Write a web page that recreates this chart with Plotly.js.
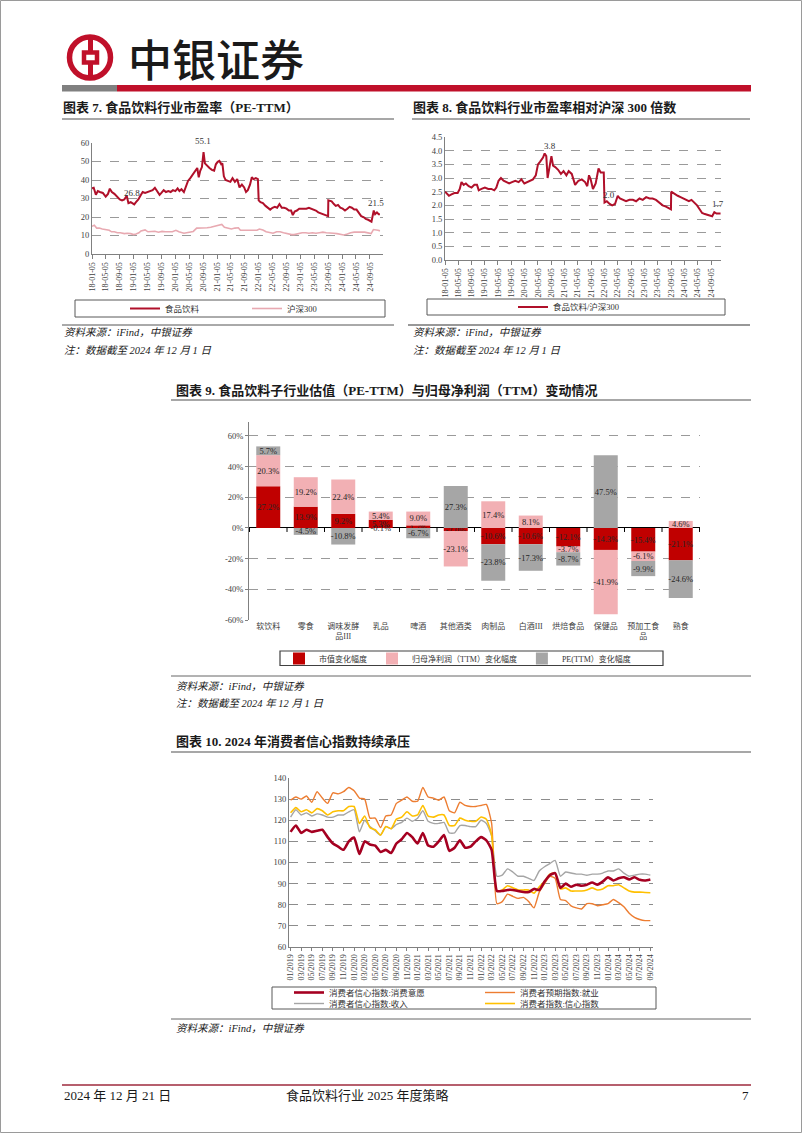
<!DOCTYPE html>
<html><head><meta charset="utf-8">
<script src="https://cdn.plot.ly/plotly-3.0.1.min.js"></script>
<style>html,body{margin:0;padding:0;background:#fff;}#page{width:802px;height:1133px;}</style>
</head><body><div id="page"></div>
<script>
// ================= DATA =================
// 图表7: 食品饮料 PE-TTM
const peDates = [
'2018-01-05','2018-01-20','2018-02-08','2018-02-25','2018-03-15','2018-04-10','2018-05-05','2018-05-25','2018-06-10','2018-06-28','2018-07-20','2018-08-15','2018-09-05','2018-09-25','2018-10-15','2018-11-05','2018-11-20','2018-12-10','2018-12-28',
'2019-01-10','2019-01-25','2019-02-15','2019-03-05','2019-03-25','2019-04-15','2019-05-05','2019-05-25','2019-06-20','2019-07-10','2019-07-30','2019-08-20','2019-09-05','2019-09-25','2019-10-15','2019-11-05','2019-11-25','2019-12-15',
'2020-01-05','2020-01-25','2020-02-10','2020-02-28','2020-03-20','2020-04-05','2020-04-25','2020-05-15','2020-06-05','2020-06-25','2020-07-15','2020-07-28','2020-08-10','2020-08-25','2020-09-08','2020-09-20','2020-10-10','2020-10-30','2020-11-20','2020-12-10','2020-12-25',
'2021-01-10','2021-01-25','2021-02-10','2021-02-20','2021-03-05','2021-03-20','2021-04-10','2021-05-01','2021-05-20','2021-06-10','2021-06-30','2021-07-20','2021-08-10','2021-08-30','2021-09-15','2021-10-01','2021-10-20','2021-11-05','2021-11-20','2021-12-10','2021-12-28',
'2022-01-04','2022-01-20','2022-02-10','2022-03-05','2022-03-25','2022-04-15','2022-05-05','2022-05-25','2022-06-15','2022-07-05','2022-07-25','2022-08-15','2022-09-05','2022-09-25','2022-10-15','2022-10-30','2022-11-15','2022-12-05','2022-12-25',
'2023-01-15','2023-02-05','2023-02-25','2023-03-20','2023-04-10','2023-05-01','2023-05-20','2023-06-10','2023-07-01','2023-07-25','2023-08-20','2023-09-04','2023-09-06','2023-10-05','2023-10-25','2023-11-10','2023-11-30','2023-12-20',
'2024-01-10','2024-01-30','2024-02-20','2024-03-10','2024-03-30','2024-04-20','2024-05-10','2024-05-30','2024-06-20','2024-07-10','2024-07-30','2024-08-20','2024-09-05','2024-09-18','2024-10-08','2024-10-20','2024-11-05','2024-11-20','2024-12-01'];
const peFood = [
35.5,35.8,32.0,34.0,33.5,33.0,31.0,32.5,35.3,33.5,32.5,30.5,29.5,29.0,29.5,31.5,27.5,28.0,27.5,
26.8,28.0,29.5,31.5,33.5,33.0,33.5,34.0,34.5,35.8,34.0,32.0,33.0,34.5,33.5,34.0,33.5,34.5,
34.0,35.5,34.0,35.0,33.5,36.5,39.5,41.0,43.0,44.5,46.5,41.5,45.0,47.0,55.1,49.0,47.5,46.5,45.5,45.0,48.5,
49.8,50.3,48.5,49.0,42.0,40.0,39.5,39.0,41.0,39.0,40.5,36.0,37.5,36.0,33.5,34.5,37.5,41.5,40.5,41.0,40.5,
29.0,28.0,27.5,26.0,25.0,24.0,25.0,25.5,25.0,27.0,25.0,25.0,24.5,23.5,23.5,21.0,23.0,23.5,24.5,
24.5,24.8,24.5,25.0,24.5,24.0,23.5,22.5,22.0,21.5,21.0,20.5,29.0,28.5,27.0,26.0,26.5,25.0,
24.5,23.5,24.5,25.5,25.0,24.0,24.0,22.5,20.5,20.0,19.0,18.5,18.0,17.5,23.5,21.5,22.5,21.5,21.5];
// 沪深300 PE-TTM
const hsDates = [
'2018-01-05','2018-01-25','2018-02-15','2018-03-10','2018-04-05','2018-05-05','2018-06-05','2018-06-25','2018-07-20','2018-08-15','2018-09-10','2018-10-15','2018-11-10','2018-12-10',
'2019-01-05','2019-01-25','2019-02-20','2019-03-10','2019-04-15','2019-05-10','2019-06-10','2019-07-10','2019-08-10','2019-09-10','2019-10-10','2019-11-10','2019-12-10',
'2020-01-10','2020-02-05','2020-03-20','2020-04-15','2020-05-10','2020-06-10','2020-07-10','2020-08-10','2020-09-10','2020-10-10','2020-11-10','2020-12-10',
'2021-01-10','2021-02-15','2021-03-10','2021-04-10','2021-05-10','2021-06-10','2021-07-10','2021-07-28','2021-08-20','2021-09-20','2021-10-20','2021-11-20','2021-12-20',
'2022-01-10','2022-02-10','2022-03-10','2022-04-10','2022-05-10','2022-06-10','2022-07-10','2022-08-10','2022-09-10','2022-10-20','2022-11-10','2022-12-10',
'2023-01-20','2023-02-20','2023-03-20','2023-04-20','2023-05-20','2023-06-20','2023-07-20','2023-08-20','2023-09-20','2023-10-20','2023-11-20','2023-12-20',
'2024-01-20','2024-02-20','2024-03-20','2024-04-20','2024-05-20','2024-06-20','2024-07-20','2024-08-20','2024-09-15','2024-10-05','2024-10-25','2024-11-15','2024-12-01'];
const hsPE = [
15.0,15.5,14.0,14.0,13.5,13.0,12.8,12.0,12.0,11.5,11.5,11.0,11.2,11.0,
10.5,10.8,11.5,12.5,13.0,12.0,12.0,12.3,11.8,12.2,12.0,12.2,12.0,
12.8,12.0,11.2,11.5,11.8,12.2,14.0,14.0,13.8,14.2,14.5,15.0,
15.5,16.0,14.5,14.0,13.5,14.0,14.2,12.8,12.8,12.5,12.8,12.5,12.8,
13.5,13.0,12.0,11.8,11.2,12.0,12.0,11.5,11.0,10.5,10.5,11.0,
11.5,11.5,11.2,11.5,11.2,11.5,11.8,11.5,11.5,11.2,11.0,10.8,
10.3,10.8,11.5,11.8,12.0,11.8,11.8,11.5,11.0,13.2,12.8,12.8,12.5];
const dateTickLabels = ['18-01-05','18-05-05','18-09-05','19-01-05','19-05-05','19-09-05','20-01-05','20-05-05','20-09-05','21-01-05','21-05-05','21-09-05','22-01-05','22-05-05','22-09-05','23-01-05','23-05-05','23-09-05','24-01-05','24-05-05','24-09-05'];
const peLabelDates = ['2020-09-01','2018-12-25','2024-10-27'];
const peLabelValues = [55.1, 26.8, 21.5];

// 图表8: 食品饮料/沪深300
const relDates = [
'2018-01-05','2018-01-20','2018-02-10','2018-03-05','2018-04-01','2018-05-01','2018-05-20','2018-06-05','2018-06-25','2018-07-15','2018-08-10','2018-09-05','2018-10-01','2018-10-25','2018-11-10','2018-12-05',
'2019-01-05','2019-02-05','2019-03-05','2019-04-01','2019-04-20','2019-05-10','2019-06-01','2019-06-25','2019-07-20','2019-08-15','2019-09-10','2019-10-10','2019-11-10','2019-12-05',
'2020-01-01','2020-01-25','2020-02-20','2020-03-20','2020-04-15','2020-05-05','2020-05-25','2020-06-20','2020-07-05','2020-07-20','2020-08-01','2020-08-15','2020-09-05','2020-09-20','2020-10-10','2020-11-05','2020-12-01','2020-12-25',
'2021-01-20','2021-02-10','2021-03-10','2021-04-10','2021-05-10','2021-06-10','2021-07-10','2021-07-30','2021-08-15','2021-08-30','2021-09-20','2021-10-15','2021-11-10','2021-11-30','2021-12-28',
'2022-01-04','2022-01-25','2022-02-20','2022-03-15','2022-04-10','2022-05-05','2022-05-25','2022-06-20','2022-07-20','2022-08-20','2022-09-20','2022-10-20','2022-11-20','2022-12-20',
'2023-01-20','2023-02-20','2023-03-20','2023-04-20','2023-05-20','2023-06-20','2023-07-20','2023-08-20','2023-09-04','2023-09-06','2023-10-10','2023-11-05','2023-12-01','2023-12-25',
'2024-01-20','2024-02-15','2024-03-10','2024-04-05','2024-04-30','2024-05-25','2024-06-15','2024-07-10','2024-08-05','2024-08-30','2024-09-15','2024-10-05','2024-10-25','2024-12-01'];
const relValues = [
2.50,2.45,2.35,2.40,2.45,2.45,2.60,2.85,2.75,2.80,2.70,2.65,2.75,2.75,2.55,2.60,
2.65,2.60,2.60,2.55,2.65,2.90,3.00,2.90,2.85,2.80,2.85,2.90,2.85,2.95,
2.80,2.85,2.90,2.95,3.10,3.50,3.60,3.75,3.90,3.80,3.00,3.35,3.80,3.45,3.40,3.30,3.15,3.25,
3.10,3.25,3.15,2.75,2.90,2.95,2.85,2.70,3.10,2.95,2.60,2.80,3.35,3.20,3.20,
2.10,2.15,2.05,2.00,2.05,2.35,2.25,2.20,2.15,2.20,2.20,2.15,2.25,2.20,
2.30,2.25,2.25,2.20,2.10,2.00,1.95,1.90,1.85,2.50,2.40,2.35,2.30,2.25,
2.20,2.15,2.20,2.10,2.00,1.85,1.72,1.68,1.65,1.60,1.60,1.75,1.70,1.70];
const relLabelDates = ['2020-08-19','2022-02-17','2024-11-07'];
const relLabelValues = [3.8, 2.0, 1.7];

// 图表9: 子行业
const subCategories = ['软饮料','零食','调味发酵品III','乳品','啤酒','其他酒类','肉制品','白酒III','烘焙食品','保健品','预加工食品','熟食'];
const subTickText = ['软饮料','零食','调味发酵<br>品III','乳品','啤酒','其他酒类','肉制品','白酒III','烘焙食品','保健品','预加工食<br>品','熟食'];
const mktCapChg = [27.2, 13.9, 9.2, 5.3, 1.7, -2.0, -10.6, -10.6, -12.1, -14.3, -15.4, -21.1];
const profitChg = [20.3, 19.2, 22.4, 5.4, 9.0, -23.1, 17.4, 8.1, -3.7, -41.9, -6.1, 4.6];
const peChg = [5.7, -4.5, -10.8, -0.1, -6.7, 27.3, -23.8, -17.3, -8.7, 47.5, -9.9, -24.6];
const pctTickVals = [-60, -40, -20, 0, 20, 40, 60];
const pctTickText = ['-60%', '-40%', '-20%', '0%', '20%', '40%', '60%'];

// 图表10: 消费者信心
const ccMonths = [
'01/2019','02/2019','03/2019','04/2019','05/2019','06/2019','07/2019','08/2019','09/2019','10/2019','11/2019','12/2019',
'01/2020','02/2020','03/2020','04/2020','05/2020','06/2020','07/2020','08/2020','09/2020','10/2020','11/2020','12/2020',
'01/2021','02/2021','03/2021','04/2021','05/2021','06/2021','07/2021','08/2021','09/2021','10/2021','11/2021','12/2021',
'01/2022','02/2022','03/2022','04/2022','05/2022','06/2022','07/2022','08/2022','09/2022','10/2022','11/2022','12/2022',
'01/2023','02/2023','03/2023','04/2023','05/2023','06/2023','07/2023','08/2023','09/2023','10/2023','11/2023','12/2023',
'01/2024','02/2024','03/2024','04/2024','05/2024','06/2024','07/2024','08/2024','09/2024'];
const ccWillingness = [
114.5,117.5,114,115.5,114.5,115,115.5,112,109,107.5,106,110,
111.8,104,110,108.5,108,105,106,104.5,109,111,114,112,
109,114,108,107.5,110,113,105.5,107,110.5,107,107.5,110,
112,110.5,106,86.5,86.5,87,87,86.5,86,86,87.5,87,
91,94,95,88,90,88.5,89.5,89,89.5,90.5,89.5,91,
93,91.5,92.5,93,92,93,91.8,91.5,92];
const ccEmployment = [
129.5,131,130,131.5,128.5,133.5,130.5,128,133,132.5,133.5,135.5,
134,130.5,130,121,121,116.5,122,122.5,128,129.5,131,129,
129,135.5,131,130.5,129.5,131,124.5,123.5,128.5,127,126.5,126.5,
127,127.5,118.5,80.5,81.5,85,84,83,83.5,81.5,78.5,86,
90,93.5,92.5,82.5,82,79.5,78.5,78,80.5,80.5,79.5,80,
80.5,82.5,81,79,76,74,73,72.5,72.5];
const ccIncome = [
121.5,125,122.5,123.5,122,123,122.5,121.5,121.5,122.5,122.5,124,
125,114.5,120,117,115,113,117,116,118,119,121,119.5,
121,124.5,119.5,118.5,118.5,119,114,114,117.5,117.5,117,117,
120,118.5,112.5,93.5,94,97,95.5,93.5,93.5,92.5,91.5,96,
98,99.5,101,93.5,95.5,95,94.5,94.5,94,94.5,94.5,95,
96,96,97,95,93.5,94,94.5,94.5,94];
const ccConfidence = [
123.5,126,124,125,123.5,125.5,124.5,122.5,124,124.5,124.5,126.5,
126.5,118.5,122,116.5,115.5,113,117,116,120.5,121.5,124,122,
122.5,127,122,121.5,122.5,122.5,117.5,117.5,121,120,119.5,119.5,
121.5,120.5,113,86.5,87,89,88,87,87,87,85.5,88.5,
91,94.5,95,87.5,88,86.5,86.5,86.5,87,88,87,87.5,
89,89,89.5,88,86.5,86,86,85.8,85.7];

// ================= LAYOUT HELPERS =================
const W = 802, H = 1133;
const X = px => px / W;
const Y = py => 1 - py / H;
const SERIF = 'Liberation Serif, Noto Sans CJK SC, serif';
const RED = '#B0102A', BRAND = '#C0102A';
const tickFont = {family: SERIF, size: 8.5, color: '#404040'};

// ================= TRACES =================
const traces = [
  {type:'scatter', mode:'lines', x: peDates, y: peFood, name:'食品饮料', xaxis:'x', yaxis:'y',
   line:{color:RED, width:2}, legend:'legend'},
  {type:'scatter', mode:'lines', x: hsDates, y: hsPE, name:'沪深300', xaxis:'x', yaxis:'y',
   line:{color:'#E8A9B1', width:1.6}, legend:'legend'},
  {type:'scatter', mode:'lines', x: relDates, y: relValues, name:'食品饮料/沪深300', xaxis:'x2', yaxis:'y2',
   line:{color:RED, width:2}, legend:'legend2'}
];
const barCommon = {type:'bar', x: subCategories, xaxis:'x3', yaxis:'y3', legend:'legend3',
  texttemplate:'%{y:.1f}%', textposition:'inside', insidetextanchor:'middle', textangle:0,
  constraintext:'none', textfont:{family:SERIF, size:8.5, color:'#262626'}, cliponaxis:false};
traces.push(Object.assign({}, barCommon, {y: mktCapChg, name:'市值变化幅度', marker:{color:'#C00000'}}));
traces.push(Object.assign({}, barCommon, {y: profitChg, name:'归母净利润（TTM）变化幅度', marker:{color:'#F2B0B4'}}));
traces.push(Object.assign({}, barCommon, {y: peChg, name:'PE(TTM）变化幅度', marker:{color:'#A6A6A6'}}));
const ccCommon = {type:'scatter', mode:'lines', x: ccMonths, xaxis:'x4', yaxis:'y4'};
traces.push(Object.assign({}, ccCommon, {y: ccIncome, name:'消费者信心指数:收入', legend:'legend5', legendrank:1,
  line:{color:'#A5A5A5', width:1.4, shape:'spline', smoothing:0.5}}));
traces.push(Object.assign({}, ccCommon, {y: ccEmployment, name:'消费者预期指数:就业', legend:'legend4', legendrank:2,
  line:{color:'#ED7D31', width:1.4, shape:'spline', smoothing:0.5}}));
traces.push(Object.assign({}, ccCommon, {y: ccConfidence, name:'消费者指数:信心指数', legend:'legend5', legendrank:2,
  line:{color:'#FFC000', width:1.6, shape:'spline', smoothing:0.5}}));
traces.push(Object.assign({}, ccCommon, {y: ccWillingness, name:'消费者信心指数:消费意愿', legend:'legend4', legendrank:1,
  line:{color:'#A50021', width:2.6, shape:'spline', smoothing:0.5}}));

// ================= AXES =================
const dateTickVals = dateTickLabels.map(s => '20' + s);
const baseX = {showgrid:false, zeroline:false, showline:true, linecolor:'#808080', linewidth:1,
  ticks:'outside', ticklen:4, tickcolor:'#808080', tickfont:Object.assign({}, tickFont, {size:8})};
const baseY = {showline:true, linecolor:'#808080', linewidth:1, zeroline:false,
  showgrid:true, gridcolor:'#9a9a9a', griddash:'dash', gridwidth:1, tickfont:tickFont, ticks:'', ticklen:3};

const layout = {
  width: W, height: H, margin:{l:0, r:0, t:0, b:0}, paper_bgcolor:'#fff', plot_bgcolor:'#fff',
  font:{family:SERIF, color:'#333'}, showlegend:true, hovermode:false,
  barmode:'relative', bargap:0.36,
  xaxis: Object.assign({}, baseX, {type:'date', domain:[X(92), X(383)], anchor:'y',
    range:['2018-01-05','2024-12-28'], tickmode:'array', tickvals:dateTickVals, ticktext:dateTickLabels, tickangle:-90}),
  yaxis: Object.assign({}, baseY, {domain:[Y(254), Y(143)], anchor:'x', range:[0,60], dtick:10}),
  xaxis2: Object.assign({}, baseX, {type:'date', domain:[X(445), X(721)], anchor:'y2',
    range:['2018-01-05','2024-12-05'], tickmode:'array', tickvals:dateTickVals, ticktext:dateTickLabels, tickangle:-90}),
  yaxis2: Object.assign({}, baseY, {domain:[Y(260), Y(137)], anchor:'x2', range:[0,4.5], dtick:0.5, tickformat:'.1f'}),
  xaxis3: {type:'category', domain:[X(249), X(700)], anchor:'y3', showline:false, showgrid:false, zeroline:false,
    ticks:'', tickmode:'array', tickvals:subCategories, ticktext:subTickText, tickangle:0,
    tickfont:Object.assign({}, tickFont, {size:8})},
  yaxis3: Object.assign({}, baseY, {domain:[Y(620), Y(422)], anchor:'x3', range:[-60, 69.1],
    tickmode:'array', tickvals:pctTickVals, ticktext:pctTickText,
    zeroline:true, zerolinecolor:'#000', zerolinewidth:1, ticks:'outside', tickcolor:'#808080'}),
  xaxis4: Object.assign({}, baseX, {type:'category', domain:[X(289), X(653)], anchor:'y4',
    range:[-0.3, 68.5], dtick:2, tick0:0, tickangle:-90, ticklen:3}),
  yaxis4: Object.assign({}, baseY, {domain:[Y(947), Y(778)], anchor:'x4', range:[60,140], dtick:10, gridcolor:'#8c8c8c'}),
  legend:  {orientation:'h', x:X(125), xanchor:'left', y:Y(308.5), yanchor:'middle', bgcolor:'rgba(0,0,0,0)',
    font:{family:SERIF, size:8.5, color:'#333'}, entrywidth:77, entrywidthmode:'pixels'},
  legend2: {orientation:'h', x:X(513), xanchor:'left', y:Y(307), yanchor:'middle', bgcolor:'rgba(0,0,0,0)',
    font:{family:SERIF, size:8.5, color:'#333'}},
  legend3: {orientation:'h', x:X(279), xanchor:'left', y:Y(658.5), yanchor:'middle', bgcolor:'rgba(0,0,0,0)',
    font:{family:SERIF, size:8, color:'#333'}},
  legend4: {orientation:'h', x:X(289), xanchor:'left', y:Y(992.5), yanchor:'middle', bgcolor:'rgba(0,0,0,0)',
    font:{family:SERIF, size:8.5, color:'#333'}, entrywidth:146, entrywidthmode:'pixels'},
  legend5: {orientation:'h', x:X(289), xanchor:'left', y:Y(1003.5), yanchor:'middle', bgcolor:'rgba(0,0,0,0)',
    font:{family:SERIF, size:8.5, color:'#333'}, entrywidth:146, entrywidthmode:'pixels'},
  shapes: [], annotations: []
};

// ================= PAGE DECORATION =================
const S = layout.shapes, A = layout.annotations;
function pline(x0, y0, x1, y1, color, width){ S.push({type:'line', xref:'paper', yref:'paper', x0:X(x0), y0:Y(y0), x1:X(x1), y1:Y(y1), line:{color:color, width:width}}); }
function prect(x0, y0, x1, y1, fill, lineColor, lineWidth){ S.push({type:'rect', xref:'paper', yref:'paper', x0:X(x0), y0:Y(y1), x1:X(x1), y1:Y(y0), fillcolor:fill, line:{color:lineColor||'rgba(0,0,0,0)', width:lineWidth||0}}); }
function ptext(txt, x, y, size, opts){ A.push(Object.assign({xref:'paper', yref:'paper', x:X(x), y:Y(y), text:txt, showarrow:false,
  xanchor:'left', yanchor:'middle', font:{family:SERIF, size:size, color:'#1a1a1a'}}, opts||{})); }

// page frame
prect(0.5, 0.5, 801.5, 1132.5, 'rgba(0,0,0,0)', '#9a9a9a', 1);
// logo
S.push({type:'circle', xref:'paper', yref:'paper', x0:X(69.5), x1:X(110.5), y0:Y(78), y1:Y(37), line:{color:BRAND, width:5.5}});
prect(84, 52.5, 97, 62.5, 'rgba(0,0,0,0)', BRAND, 4.5);
pline(90.5, 37, 90.5, 52.5, BRAND, 5);
pline(90.5, 62.5, 90.5, 78, BRAND, 5);
ptext('中银证券', 126, 58, 44, {font:{family:'Noto Sans CJK SC', size:44, color:'#1a1a1a', weight:500}});
// header bar
prect(62, 85, 117, 91.5, '#808080');
prect(117, 85, 751, 91.5, BRAND);

// titles & underlines
ptext('<b>图表 7. 食品饮料行业市盈率（PE-TTM）</b>', 61, 108, 13);
pline(62, 119, 394, 119, '#8a8a8a', 1.5);
ptext('<b>图表 8. 食品饮料行业市盈率相对沪深 300 倍数</b>', 411, 108, 13);
pline(412, 119, 750, 119, '#8a8a8a', 1.5);
ptext('<b>图表 9. 食品饮料子行业估值（PE-TTM）与归母净利润（TTM）变动情况</b>', 174, 390, 13);
pline(171, 400, 751, 400, '#8a8a8a', 1.5);
ptext('<b>图表 10. 2024 年消费者信心指数持续承压</b>', 174, 741, 13);
pline(171, 752, 751, 752, '#8a8a8a', 1.5);

// legend boxes
prect(75, 300, 385, 317, 'rgba(0,0,0,0)', '#595959', 1);
prect(427, 299, 725, 315, 'rgba(0,0,0,0)', '#595959', 1);
prect(280, 651, 663, 665.5, 'rgba(0,0,0,0)', '#404040', 1.2);
prect(272, 987, 656, 1009, 'rgba(0,0,0,0)', '#595959', 1);

// source separators and notes
pline(62, 325, 394, 325, '#555', 1);
pline(408, 325, 750, 325, '#333', 1.2);
pline(171, 676, 751, 676, '#666', 1);
pline(171, 1019, 751, 1019, '#666', 1);
const srcTxt = '<i>资料来源：iFind，中银证券</i>', noteTxt = '<i>注：数据截至 2024 年 12 月 1 日</i>';
ptext(srcTxt, 62, 333, 10.5); ptext(noteTxt, 62, 350.5, 10.5);
ptext(srcTxt, 411, 333, 10.5); ptext(noteTxt, 411, 350.5, 10.5);
ptext(srcTxt, 174, 686, 10.5); ptext(noteTxt, 174, 703, 10.5);
ptext(srcTxt, 174, 1028, 10.5);

// footer
pline(62, 1085, 751, 1085, '#9E2A3C', 1.3);
ptext('2024 年 12 月 21 日', 62, 1095, 13);
ptext('食品饮料行业 2025 年度策略', 367, 1095, 13, {xanchor:'center'});
ptext('7', 745, 1095, 13, {xanchor:'center'});

// data labels (chart 7 & 8)
peLabelDates.forEach((d, i) => A.push({xref:'x', yref:'y', x:d, y:peLabelValues[i], text:peLabelValues[i].toFixed(1),
  showarrow:false, yshift:11, font:{family:SERIF, size:9, color:'#333'}}));
relLabelDates.forEach((d, i) => A.push({xref:'x2', yref:'y2', x:d, y:relLabelValues[i], text:relLabelValues[i].toFixed(1),
  showarrow:false, yshift:10, font:{family:SERIF, size:9, color:'#333'}}));

// small tick marks on the zero line of chart 9 (category boundaries)
for (let i = 0; i <= subCategories.length; i++) {
  S.push({type:'line', xref:'x3', yref:'y3', x0:i - 0.5, x1:i - 0.5, y0:0, y1:-2.6, line:{color:'#000', width:1}});
}

Plotly.newPlot('page', traces, layout, {staticPlot:true, displayModeBar:false});
</script></body></html>
